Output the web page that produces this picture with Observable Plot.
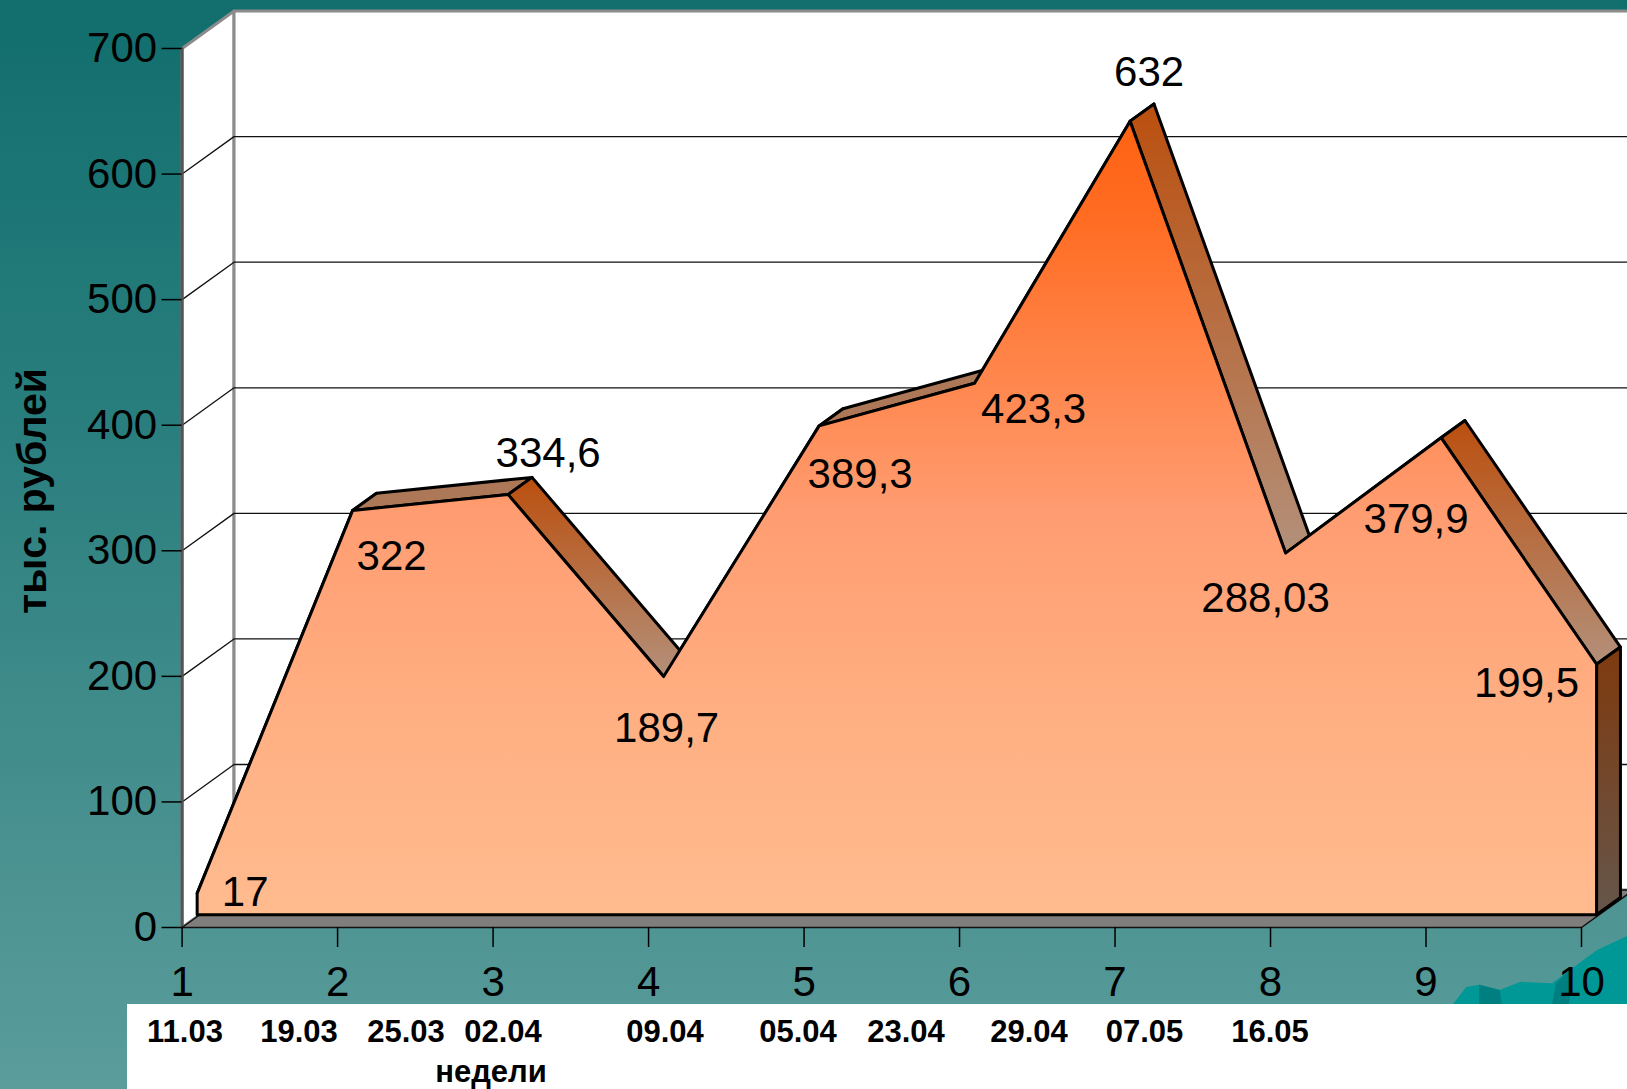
<!DOCTYPE html>
<html lang="ru">
<head>
<meta charset="utf-8">
<script src="https://cdn.jsdelivr.net/npm/d3@7"></script>
<script src="https://cdn.jsdelivr.net/npm/@observablehq/plot@0.6"></script>
<style>
  html, body { margin: 0; padding: 0; width: 1627px; height: 1089px; overflow: hidden;
    background: linear-gradient(180deg, #116e6d 0%, #2a7f7e 40%, #4f9594 85%, #5a9d9b 100%); font-family: "Liberation Sans", Arial, sans-serif; }
  #wave, #wave2 { position: absolute; left: 1440px; top: 930px; width: 187px; height: 74px; }
  #wave { background: #009896; clip-path: polygon(7% 100%, 14% 77%, 21% 74%, 32% 81%, 43% 70%, 60% 72%, 76% 42%, 84% 27%, 100% 8%, 100% 100%); }
  #wave2 { background: #007f80; clip-path: polygon(21% 100%, 21% 74%, 32% 81%, 33% 100%, 60% 100%, 62% 72%, 71% 50%, 69% 100%); }
  #chart { position: absolute; left: 0; top: 0; }
  #caption { position: absolute; left: 127px; top: 1004px; width: 1500px; height: 85px; background: #fff; color: #000; font-weight: 700; font-size: 31px; }
  #caption span { position: absolute; transform: translateX(-50%); line-height: 34px; white-space: nowrap; }
</style>
</head>
<body>
<div id="wave"></div><div id="wave2"></div>
<div id="chart"></div>
<div id="caption"></div>
<script>
const weeks = [1, 2, 3, 4, 5, 6, 7, 8, 9, 10];
const values = [17, 322, 334.6, 189.7, 389.3, 423.3, 632, 288.03, 379.9, 199.5];
const valueLabels = ["17", "322", "334,6", "189,7", "389,3", "423,3", "632", "288,03", "379,9", "199,5"];
const dates = ["11.03", "19.03", "25.03", "02.04", "09.04", "05.04", "23.04", "29.04", "07.05", "16.05"];
const yTicks = [0, 100, 200, 300, 400, 500, 600, 700];
const yTitle = "тыс. рублей";
const xTitle = "недели";

// Oblique projection of the 3-D box, expressed in axis units.
const depthX = 0.334, depthY = 29.8, faceDepth = 0.29, backDepth = 0.75, faceLift = 1.5;
const at = (w, v, d) => ({x: w + d * depthX, y: v + d * depthY});
const poly = (id, pts) => pts.map(([w, v, d]) => ({id, ...at(w, v, d)}));
const polyLifted = (id, pts) => poly(id, pts.map(([w, v, d]) => [w, v + faceLift, d]));
const n = weeks.length;
const W0 = weeks[0], W1 = weeks[n - 1], V1 = yTicks[yTicks.length - 1];

const walls = [
  ...poly("left", [[W0, 0, 0], [W0, V1, 0], [W0, V1, 1], [W0, 0, 1]]),
  ...poly("back", [[W0, 0, 1], [W0, V1, 1], [W1, V1, 1], [W1, 0, 1]])
];
const floor = poly("floor", [[W0, 0, 0], [W1, 0, 0], [W1, 0, 1], [W0, 0, 1]]);
const grid = yTicks.slice(1, -1).flatMap(v => poly(v, [[W0, v, 0], [W0, v, 1], [W1, v, 1]]));
const segs = d3.pairs(d3.zip(weeks, values)).map(([[a, u], [b, w]], i) => ({i, rising: w > u,
  pts: polyLifted(i, [[a, u, faceDepth], [b, w, faceDepth], [b, w, backDepth], [a, u, backDepth]])}));
const upper = segs.filter(s => s.rising).flatMap(s => s.pts);
const lower = segs.filter(s => !s.rising).flatMap(s => s.pts);
const endFace = polyLifted("end", [[W1, 0, faceDepth], [W1, values[n - 1], faceDepth], [W1, values[n - 1], backDepth], [W1, 0, backDepth]]);
const front = polyLifted("front", [[W0, 0, faceDepth], ...weeks.map((w, i) => [w, values[i], faceDepth]), [W1, 0, faceDepth]]);
const closed = {x: "x", y: "y", z: "id", curve: "linear-closed"};

function defs() {
  const d = d3.create("svg:defs");
  const add = (id, stops) => {
    const g = d.append("linearGradient").attr("id", id).attr("x1", 0).attr("x2", 0).attr("y1", 0).attr("y2", 1);
    stops.forEach(([o, c]) => g.append("stop").attr("offset", o).attr("stop-color", c));
  };
  add("faceGrad", [[0, "#ff6212"], [0.12, "#ff6c22"], [0.5, "#ff9d72"], [0.76, "#ffb083"], [1, "#ffbb8e"]]);
  add("sideGrad", [[0, "#bb4f0e"], [1, "#b3907a"]]);
  add("endGrad", [[0, "#7f3a0e"], [1, "#65564b"]]);
  return d.node();
}

const labelNudge = [[48, -2], [39, 45], [40, -42], [3, 51], [41, 48], [59, 25], [19, -49], [-20, 45], [-25, 81], [-70, 18]];
const labelMarks = valueLabels.map((t, i) => Plot.text([at(weeks[i], values[i], faceDepth)], {
  x: "x", y: "y", text: () => t, dx: labelNudge[i][0], dy: labelNudge[i][1] - 1,
  fontSize: 42, fill: "#000", textAnchor: "middle", lineAnchor: "middle"
}));

const plot = Plot.plot({
  width: 1627, height: 1012,
  marginLeft: 181.6, marginRight: 46, marginTop: 48, marginBottom: 85,
  x: {domain: [W0, W1]},
  y: {domain: [0, V1]},
  style: {background: "transparent", fontFamily: "Liberation Sans, Arial, sans-serif", color: "#000", maxWidth: "none"},
  marks: [
    defs,
    Plot.line(walls, {...closed, fill: "#fff", stroke: "#8b8b8b", strokeWidth: 3}),
    Plot.line(grid, {x: "x", y: "y", z: "id", stroke: "#111", strokeWidth: 1.3}),
    Plot.line(poly("axis", [[W0, 0, 0], [W0, V1, 0]]), {x: "x", y: "y", stroke: "#555", strokeWidth: 3}),
    Plot.line(floor, {...closed, fill: "#807d7d", stroke: "#111", strokeWidth: 1.5}),
    Plot.line(upper, {...closed, fill: "#ad7857", stroke: "#000", strokeWidth: 3, strokeLinejoin: "round"}),
    Plot.line(lower, {...closed, fill: "url(#sideGrad)", stroke: "#000", strokeWidth: 3, strokeLinejoin: "round"}),
    Plot.line(endFace, {...closed, fill: "url(#endGrad)", stroke: "#000", strokeWidth: 3}),
    Plot.line(front, {...closed, fill: "url(#faceGrad)", stroke: "#000", strokeWidth: 3, strokeLinejoin: "round"}),
    Plot.axisY({ticks: yTicks, tickSize: 20, tickPadding: 5, fontSize: 42, label: null, tickFormat: d => String(d), stroke: "#000", strokeWidth: 1.5}),
    Plot.axisX({ticks: weeks, tickSize: 20, tickPadding: 19, fontSize: 42, label: null, tickFormat: d => String(d), stroke: "#000", strokeWidth: 1.5}),
    Plot.text([yTitle], {frameAnchor: "left", textAnchor: "middle", dx: -149, dy: 3, rotate: -90, fontSize: 41, fontWeight: 700, fill: "#000"}),
    ...labelMarks
  ]
});
document.getElementById("chart").appendChild(plot);

const dateCentres = [58, 172, 279, 376, 538, 671, 779, 902, 1017.5, 1143];
const caption = document.getElementById("caption");
dates.forEach((t, i) => {
  const s = document.createElement("span");
  s.textContent = t; s.style.left = dateCentres[i] + "px"; s.style.top = "11px";
  caption.appendChild(s);
});
const ttl = document.createElement("span");
ttl.textContent = xTitle; ttl.style.left = "364px"; ttl.style.top = "51px";
caption.appendChild(ttl);
</script>
</body>
</html>
